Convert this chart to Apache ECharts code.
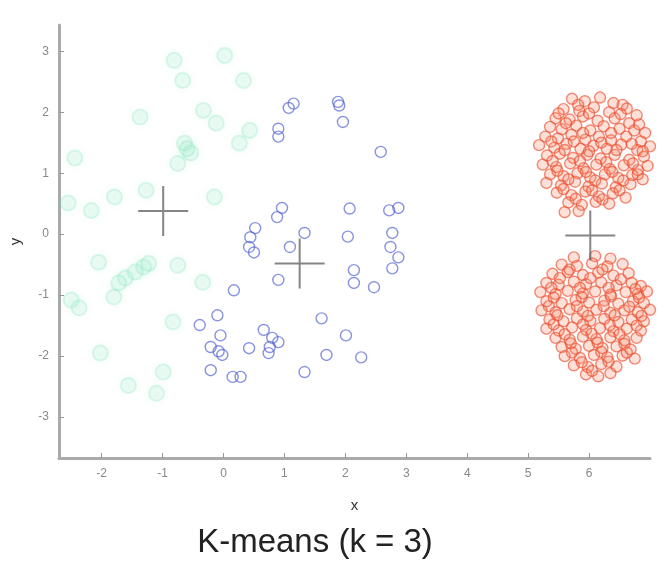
<!DOCTYPE html>
<html>
<head>
<meta charset="utf-8">
<script src="https://cdn.jsdelivr.net/npm/echarts@6/dist/echarts.min.js"></script>
<style>
html,body{margin:0;padding:0;background:#fff;}
#main{width:670px;height:563px;}
</style>
</head>
<body>
<div id="main"></div>
<script>
var titleText = 'K-means (k = 3)';
var xName = 'x';
var yName = 'y';
var xTicks = [-2, -1, 0, 1, 2, 3, 4, 5, 6];
var yTicks = [-3, -2, -1, 0, 1, 2, 3];

var greenPts = [
  [-0.81,2.85],[0.02,2.93],[-0.67,2.52],[0.33,2.52],[-1.37,1.92],[-0.12,1.82],[-0.33,2.03],
  [0.43,1.70],[-0.64,1.49],[-0.54,1.33],[0.26,1.49],[-2.44,1.25],[-0.75,1.16],[-1.79,0.61],
  [-2.55,0.51],[-2.17,0.39],[-0.15,0.61],[-1.27,0.72],[-2.05,-0.46],[-1.31,-0.54],[-1.23,-0.48],
  [-1.61,-0.72],[-1.72,-0.80],[-0.75,-0.51],[-0.34,-0.79],[-1.80,-1.03],[-2.50,-1.08],[-2.37,-1.21],
  [-0.83,-1.44],[-2.02,-1.95],[-0.99,-2.26],[-1.56,-2.48],[-1.10,-2.61],[-1.45,-0.62],[-0.60,1.40]
];

var bluePts = [
  [1.15,2.14],[1.07,2.07],[1.88,2.17],[1.90,2.11],[1.96,1.84],[0.90,1.73],[0.90,1.60],[2.58,1.35],
  [0.96,0.43],[0.88,0.28],[2.07,0.42],[2.72,0.39],[2.87,0.43],[0.52,0.10],[0.44,-0.05],[0.42,-0.21],
  [0.50,-0.30],[1.33,0.02],[1.09,-0.21],[2.04,-0.04],[2.77,0.02],[2.74,-0.21],[2.87,-0.38],[2.77,-0.56],
  [2.14,-0.59],[2.14,-0.80],[2.47,-0.87],[0.90,-0.75],[0.17,-0.92],[-0.10,-1.33],[-0.39,-1.49],
  [-0.05,-1.66],[-0.21,-1.85],[-0.02,-1.98],[-0.21,-2.23],[0.15,-2.34],[0.28,-2.34],[0.42,-1.87],
  [0.66,-1.57],[0.76,-1.85],[0.90,-1.77],[0.74,-1.95],[1.61,-1.38],[2.01,-1.66],[1.69,-1.98],
  [2.26,-2.02],[1.33,-2.26],[-0.08,-1.92],[0.80,-1.70]
];

var redTop = [
  [5.72,2.22],[5.93,2.18],[6.18,2.24],[6.55,2.12],[5.58,2.05],[5.84,2.02],[6.08,2.08],[6.33,2.0],[6.62,2.06],[6.78,1.95],
  [5.45,1.9],[5.68,1.88],[5.9,1.93],[6.14,1.86],[6.42,1.9],[6.66,1.82],[5.36,1.76],[5.55,1.72],[5.79,1.78],[6.02,1.7],
  [6.24,1.77],[6.5,1.73],[6.74,1.7],[6.92,1.66],[5.28,1.6],[5.49,1.57],[5.71,1.63],[5.94,1.55],[6.16,1.6],[6.36,1.54],
  [6.61,1.6],[6.85,1.52],[5.18,1.46],[5.43,1.42],[5.63,1.48],[5.86,1.4],[6.07,1.45],[6.29,1.4],[6.53,1.47],[6.79,1.38],
  [7.0,1.44],[5.31,1.29],[5.52,1.32],[5.74,1.25],[5.97,1.3],[6.19,1.24],[6.42,1.3],[6.66,1.22],[6.9,1.27],[5.24,1.14],
  [5.46,1.1],[5.69,1.16],[5.91,1.08],[6.12,1.14],[6.34,1.07],[6.57,1.13],[6.8,1.05],[6.96,1.12],[5.36,0.98],[5.58,0.95],
  [5.81,1.0],[6.02,0.93],[6.26,0.98],[6.48,0.92],[6.71,0.97],[6.88,0.9],[5.3,0.84],[5.54,0.8],[5.77,0.86],[5.99,0.78],
  [6.21,0.83],[6.44,0.77],[6.68,0.82],[5.47,0.68],[5.71,0.64],[5.94,0.7],[6.16,0.62],[6.39,0.67],[6.6,0.6],[5.66,0.52],
  [5.88,0.48],[6.11,0.53],[6.33,0.5],[5.6,0.36],[5.83,0.38],
  [5.82,2.12],[6.4,2.15],[5.5,1.98],[6.0,1.98],[6.52,1.97],[5.62,1.82],[5.9,1.66],[6.36,1.66],[6.82,1.8],[5.38,1.52],
  [5.75,1.52],[6.2,1.5],[6.7,1.48],[5.6,1.38],[6.0,1.36],[6.45,1.38],[6.88,1.36],[5.4,1.2],[5.85,1.2],[6.28,1.18],
  [6.72,1.16],[5.48,1.04],[5.95,1.02],[6.38,1.02],[6.8,0.98],[5.66,0.9],[6.1,0.88],[6.56,0.88],[5.58,0.74],[6.05,0.72],
  [6.5,0.72],[5.78,0.58],[6.22,0.57]
];

var redBottom = [
  [5.75,-0.38],[6.1,-0.36],[6.35,-0.4],[5.55,-0.5],[5.8,-0.52],[6.05,-0.48],[6.3,-0.53],[6.55,-0.49],
  [5.4,-0.65],[5.65,-0.62],[5.9,-0.67],[6.15,-0.63],[6.4,-0.68],[6.65,-0.64],
  [5.3,-0.8],[5.5,-0.83],[5.75,-0.78],[5.95,-0.82],[6.2,-0.79],[6.45,-0.84],[6.7,-0.8],[6.85,-0.85],
  [5.2,-0.95],[5.45,-0.98],[5.65,-0.93],[5.9,-0.97],[6.1,-0.94],[6.35,-0.99],[6.6,-0.95],[6.8,-0.98],[6.95,-0.94],
  [5.3,-1.1],[5.55,-1.13],[5.78,-1.08],[6.0,-1.12],[6.25,-1.09],[6.48,-1.14],[6.72,-1.1],[6.9,-1.13],
  [5.22,-1.25],[5.45,-1.28],[5.68,-1.23],[5.9,-1.27],[6.12,-1.24],[6.35,-1.29],[6.58,-1.25],[6.8,-1.28],[7.0,-1.24],
  [5.35,-1.4],[5.58,-1.43],[5.8,-1.38],[6.02,-1.42],[6.25,-1.39],[6.48,-1.44],[6.7,-1.4],[6.9,-1.43],
  [5.3,-1.55],[5.5,-1.58],[5.72,-1.53],[5.95,-1.57],[6.18,-1.54],[6.4,-1.59],[6.62,-1.55],[6.85,-1.58],
  [5.45,-1.7],[5.68,-1.73],[5.9,-1.68],[6.12,-1.72],[6.35,-1.69],[6.58,-1.74],[6.78,-1.7],
  [5.55,-1.85],[5.78,-1.88],[6.0,-1.83],[6.22,-1.87],[6.45,-1.84],[6.68,-1.89],
  [5.6,-2.0],[5.85,-2.03],[6.08,-1.98],[6.3,-2.02],[6.55,-1.99],[6.75,-2.04],
  [5.75,-2.15],[5.98,-2.18],[6.2,-2.13],[6.45,-2.17],[5.95,-2.3],[6.15,-2.33],[6.35,-2.28],
  [5.68,-0.58],[6.22,-0.58],[5.52,-0.72],[6.02,-0.72],[6.52,-0.74],[5.38,-0.88],[5.85,-0.88],[6.32,-0.88],[6.76,-0.9],
  [5.42,-1.04],[5.88,-1.03],[6.36,-1.02],[6.82,-1.04],[5.34,-1.18],[5.8,-1.18],[6.24,-1.18],[6.66,-1.19],
  [5.48,-1.33],[5.98,-1.34],[6.42,-1.33],[6.86,-1.34],[5.42,-1.48],[5.9,-1.48],[6.34,-1.49],[6.78,-1.5],
  [5.6,-1.64],[6.04,-1.63],[6.5,-1.64],[5.7,-1.79],[6.14,-1.78],[6.58,-1.8],[5.72,-1.94],[6.2,-1.93],[6.62,-1.94],
  [5.88,-2.1],[6.32,-2.09],[6.05,-2.24]
];

var centroids = [[-0.99,0.38],[1.25,-0.48],[6.02,-0.02]];

var chart = echarts.init(document.getElementById('main'), null, {renderer:'canvas'});
var plus = 'path://M0,4.8H10V5.2H0Z M4.8,0H5.2V10H4.8Z';
var axisGray = '#aaaaaa';

chart.setOption({
  backgroundColor: '#ffffff',
  animation: false,
  title: {
    text: titleText,
    left: 310, top: 521, textAlign: 'center',
    textStyle: {fontFamily: 'Liberation Sans, Arial, sans-serif', fontSize: 33, fontWeight: 'normal', color: '#222'}
  },
  grid: {left: 55, right: 20, top: 25, bottom: 105},
  xAxis: {
    type: 'value', min: -2.7, max: 7.0,
    name: xName, nameLocation: 'middle', nameGap: 40,
    nameTextStyle: {fontFamily: 'Liberation Sans, Arial, sans-serif', fontSize: 15, color: '#333'},
    axisLine: {onZero: false, lineStyle: {color: axisGray, width: 3}},
    axisTick: {show: true, inside: true, length: 5, customValues: xTicks, lineStyle: {color: '#999', width: 1}},
    axisLabel: {customValues: xTicks, margin: 10, color: '#888', fontSize: 12, fontFamily: 'Liberation Sans, Arial, sans-serif'},
    splitLine: {show: false}
  },
  yAxis: {
    type: 'value', min: -3.67, max: 3.43,
    name: yName, nameLocation: 'middle', nameGap: 36, nameRotate: 90,
    nameTextStyle: {fontFamily: 'Liberation Sans, Arial, sans-serif', fontSize: 15, color: '#333'},
    axisLine: {onZero: false, lineStyle: {color: axisGray, width: 3}},
    axisTick: {show: true, inside: true, length: 5, customValues: yTicks, lineStyle: {color: '#999', width: 1}},
    axisLabel: {customValues: yTicks, margin: 10, color: '#888', fontSize: 12, fontFamily: 'Liberation Sans, Arial, sans-serif'},
    splitLine: {show: false}
  },
  series: [
    {
      type: 'scatter', data: greenPts, symbol: 'circle', symbolSize: 15,
      itemStyle: {color: 'rgba(170,240,210,0.22)', borderColor: 'rgba(120,225,180,0.3)', borderWidth: 2,
        shadowBlur: 8, shadowColor: 'rgba(130,230,185,0.45)'}
    },
    {
      type: 'scatter', data: bluePts, symbol: 'circle', symbolSize: 11,
      itemStyle: {color: 'rgba(255,255,255,0)', borderColor: 'rgba(80,96,210,0.85)', borderWidth: 1.4}
    },
    {
      type: 'scatter', data: redTop, symbol: 'circle', symbolSize: 11,
      itemStyle: {color: 'rgba(245,130,100,0.3)', borderColor: 'rgba(236,75,45,0.8)', borderWidth: 1.4}
    },
    {
      type: 'scatter', data: redBottom, symbol: 'circle', symbolSize: 11,
      itemStyle: {color: 'rgba(245,130,100,0.3)', borderColor: 'rgba(236,75,45,0.8)', borderWidth: 1.4}
    },
    {
      type: 'scatter', data: centroids, symbol: plus, symbolSize: 50, z: 10,
      itemStyle: {color: '#666'}
    }
  ]
});
</script>
</body>
</html>
